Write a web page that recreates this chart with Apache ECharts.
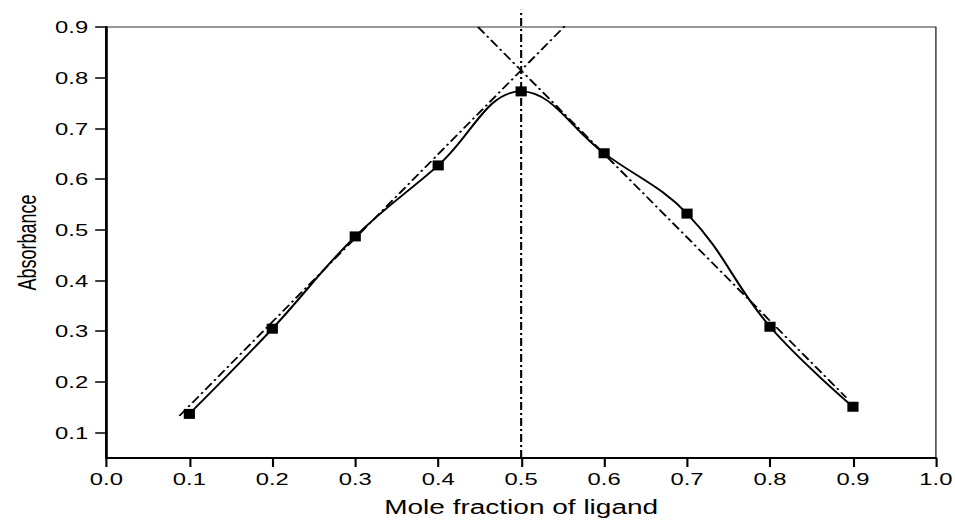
<!DOCTYPE html>
<html>
<head>
<meta charset="utf-8">
<script src="https://cdn.jsdelivr.net/npm/echarts@6/dist/echarts.min.js"></script>
<style>
html, body { margin: 0; padding: 0; background: #fff; overflow: hidden; }
/* the original picture is stretched sideways, so the chart is drawn narrow and widened */
#absChart { width: 682px; height: 520px; transform: scaleX(1.4); transform-origin: 0 0; }
</style>
</head>
<body>
<div id="absChart"></div>
<script>
// measured points (Job's plot)
var moleFraction = [0.1, 0.2, 0.3, 0.4, 0.5, 0.6, 0.7, 0.8, 0.9];
var absorbance = [0.137, 0.305, 0.487, 0.627, 0.773, 0.651, 0.532, 0.309, 0.151];
// fitted straight lines and the line at the crossing
var leftFitX = [0.088, 0.554];
var leftFitY = [0.133, 0.904];
var rightFitX = [0.448, 0.892];
var rightFitY = [0.9, 0.169];
var crossX = [0.5, 0.5];
var crossY = [0.05, 0.934];
// tick labels of the y axis
var yTicks = [0.1, 0.2, 0.3, 0.4, 0.5, 0.6, 0.7, 0.8, 0.9];

var dashDot = [8, 3, 2, 3];
var fontName = '"Liberation Sans", Arial, sans-serif';

function toPairs(xs, ys) {
	var out = [];
	for (var i = 0; i < xs.length; i++) {
		out.push([xs[i], ys[i]]);
	}
	return out;
}

function fitLine(name, xs, ys) {
	return {
		name : name,
		type : 'line',
		data : toPairs(xs, ys),
		symbol : 'none',
		clip : false,
		silent : true,
		lineStyle : {
			color : '#000',
			width : 1.5,
			type : dashDot
		},
		z : 2
	};
}

var myChart = echarts.init(document.getElementById('absChart'), null, { renderer : 'svg' });
var option = {
	animation : false,
	backgroundColor : '#fff',
	textStyle : { fontFamily : fontName, color : '#000' },
	grid : {
		left : 76,
		right : 13.5,
		top : 27,
		bottom : 62,
		outerBoundsMode : 'none',
		show : true,
		borderColor : '#333',
		borderWidth : 1
	},
	xAxis : {
		type : 'value',
		min : 0,
		max : 1,
		interval : 0.1,
		name : 'Mole fraction of ligand',
		nameLocation : 'middle',
		nameGap : 39,
		nameTextStyle : { fontSize : 20, color : '#000', fontFamily : fontName },
		axisLine : { show : true, lineStyle : { color : '#000', width : 2 } },
		axisTick : { show : true, inside : false, length : 9, lineStyle : { color : '#000', width : 1.5 } },
		axisLabel : {
			margin : 12,
			fontSize : 17,
			color : '#000',
			fontFamily : fontName,
			formatter : function(v) { return v.toFixed(1); }
		},
		splitLine : { show : false }
	},
	yAxis : {
		type : 'value',
		min : 0.05,
		max : 0.9,
		name : 'Absorbance',
		nameLocation : 'middle',
		nameRotate : 90,
		nameGap : 47,
		nameTextStyle : { fontSize : 18, color : '#000', fontFamily : fontName },
		axisLine : { show : true, lineStyle : { color : '#000', width : 2 } },
		axisTick : { show : true, inside : false, length : 8, customValues : yTicks, lineStyle : { color : '#000', width : 1.5 } },
		axisLabel : {
			margin : 13,
			fontSize : 17,
			color : '#000',
			fontFamily : fontName,
			customValues : yTicks,
			formatter : function(v) { return v.toFixed(1); }
		},
		splitLine : { show : false }
	},
	series : [
		{
			name : 'Absorbance',
			type : 'line',
			data : toPairs(moleFraction, absorbance),
			smooth : 0.4,
			symbol : 'rect',
			symbolSize : [8, 10],
			itemStyle : { color : '#000' },
			lineStyle : { color : '#000', width : 1.6 },
			z : 3
		},
		fitLine('left fit', leftFitX, leftFitY),
		fitLine('right fit', rightFitX, rightFitY),
		fitLine('crossing', crossX, crossY)
	]
};
myChart.setOption(option);
</script>
</body>
</html>
